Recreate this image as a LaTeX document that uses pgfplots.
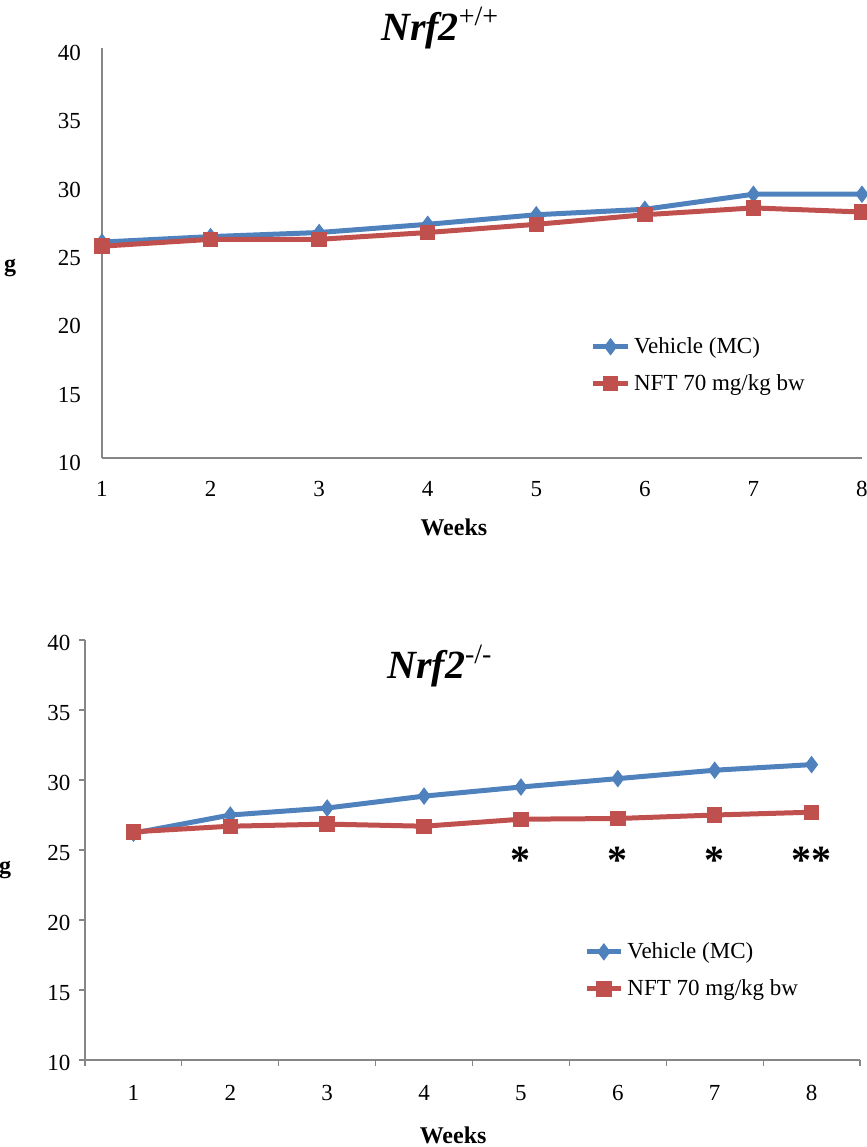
\documentclass[border=0pt]{standalone}
\usepackage{pgfplots}
\pgfplotsset{compat=1.18}
\usepackage{fontspec}
\setmainfont{Liberation Serif}
\definecolor{vblue}{HTML}{4F81BD}
\definecolor{nred}{HTML}{C0504D}
\definecolor{axgray}{HTML}{868686}
\pgfplotstableread{
wk veh nft
1 25.8 25.5
2 26.2 26.0
3 26.5 26.0
4 27.1 26.5
5 27.8 27.1
6 28.2 27.8
7 29.3 28.3
8 29.3 28.0
}\wt
\pgfplotstableread{
wk veh nft
1 26.2 26.3
2 27.5 26.7
3 28.0 26.85
4 28.85 26.7
5 29.5 27.2
6 30.1 27.25
7 30.7 27.5
8 31.1 27.7
}\ko
\pgfplotsset{
  every axis/.append style={
    scale only axis,
    axis lines*=left,
    axis line style={axgray, line width=0.6pt},
    ymin=10, ymax=40, ytick={10,15,...,40},
    tick label style={font=\fontsize{11.5}{13}\selectfont},
    /pgf/number format/assume math mode=true,
    legend style={draw=none, fill=none, font=\fontsize{11.5}{13}\selectfont, row sep=5pt},
    legend cell align=left,
  },
  veh/.style={vblue, line width=2.5pt, mark=diamond*, mark size=4pt, mark options={solid, fill=vblue, line width=0.5pt}},
  nft/.style={nred, line width=2.5pt, mark=square*, mark size=3.6pt, mark options={solid, fill=nred, line width=0.5pt}},
}
\begin{document}
\begin{tikzpicture}
\useasboundingbox (0,0) rectangle (433.5pt,-573.5pt);
% top panel
\begin{axis}[
  at={(51pt,-229pt)}, anchor=south west,
  width=380pt, height=205pt,
  xmin=1, xmax=8, xtick={1,...,8},
  major tick length=0pt,
  clip=false,
  legend style={at={(0.635,0.315)}, anchor=north west},
  yticklabel style={xshift=-7pt, yshift=-2.5pt},
  xticklabel style={yshift=-8pt},
  xlabel={\textbf{Weeks}},
  xlabel style={font=\fontsize{12}{14}\selectfont, at={(axis description cs:0.463,-0.17)}, anchor=center},
  ylabel={\textbf{g}},
  ylabel style={font=\fontsize{12}{14}\selectfont, rotate=-90, at={(axis description cs:-0.121,0.463)}, anchor=center},
  title={\textbf{\textit{Nrf2}}\textsuperscript{+/+}},
  title style={font=\fontsize{20}{24}\selectfont, at={(axis description cs:0.445,0.99)}, anchor=base},
]
\addplot[veh] table[x=wk, y=veh] {\wt};
\addlegendentry{Vehicle (MC)}
\addplot[nft] table[x=wk, y=nft] {\wt};
\addlegendentry{NFT 70 mg/kg bw}
\end{axis}
% bottom panel
\begin{axis}[
  at={(42.5pt,-530pt)}, anchor=south west,
  width=387.5pt, height=210pt,
  xmin=0.5, xmax=8.5,
  xtick={0.5,1.5,...,8.5}, xticklabels={},
  extra x ticks={1,...,8},
  extra x tick labels={1,2,3,4,5,6,7,8},
  extra x tick style={major tick length=0pt, xticklabel style={yshift=-9pt}},
  tick align=outside, tick pos=left,
  tick style={axgray, line width=0.6pt},
  major tick length=2.8pt,
  clip=false,
  legend style={at={(0.636,0.30)}, anchor=north west},
  yticklabel style={xshift=-1pt, yshift=-1.5pt},
  xlabel={\textbf{Weeks}},
  xlabel style={font=\fontsize{12}{14}\selectfont, at={(axis description cs:0.475,-0.18)}, anchor=center},
  ylabel={\textbf{g}},
  ylabel style={font=\fontsize{12}{14}\selectfont, rotate=-90, at={(axis description cs:-0.103,0.452)}, anchor=center},
  title={\textbf{\textit{Nrf2}}\textsuperscript{-/-}},
  title style={font=\fontsize{20}{24}\selectfont, at={(axis description cs:0.458,0.88)}, anchor=base},
]
\addplot[veh] table[x=wk, y=veh] {\ko};
\addlegendentry{Vehicle (MC)}
\addplot[nft] table[x=wk, y=nft] {\ko};
\addlegendentry{NFT 70 mg/kg bw}
\node[font=\bfseries\fontsize{20}{22}\selectfont] at (axis cs:5,24.3) {*};
\node[font=\bfseries\fontsize{20}{22}\selectfont] at (axis cs:6,24.3) {*};
\node[font=\bfseries\fontsize{20}{22}\selectfont] at (axis cs:7,24.3) {*};
\node[font=\bfseries\fontsize{20}{22}\selectfont] at (axis cs:8,24.3) {**};
\end{axis}
\end{tikzpicture}
\end{document}
